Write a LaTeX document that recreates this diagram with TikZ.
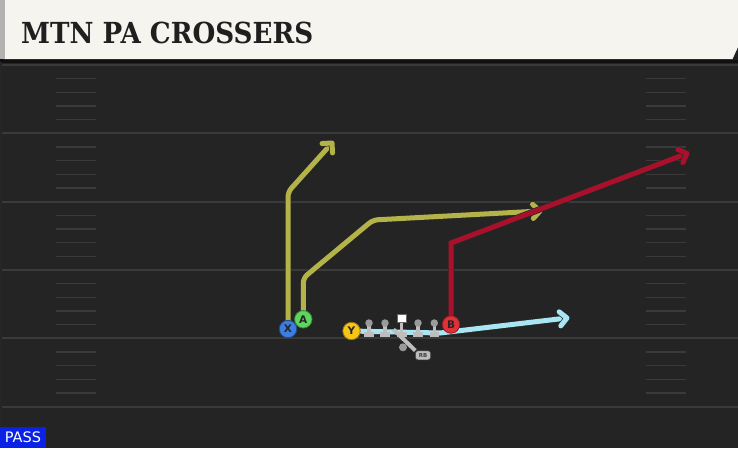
\documentclass[tikz,border=0pt]{standalone}
\usepackage{fontspec}
\usepackage{graphicx}
\setmainfont{DejaVu Sans}
\newfontfamily\titlefont{DejaVu Serif}
\usetikzlibrary{calc}
\definecolor{field}{HTML}{242424}
\definecolor{yard}{HTML}{3A3A3A}
\definecolor{cream}{HTML}{F6F4EE}
\definecolor{olive}{HTML}{B3B349}
\definecolor{crimson}{HTML}{A8102C}
\definecolor{skyb}{HTML}{A8E6F3}
\definecolor{xblue}{HTML}{3D7CE0}
\definecolor{agreen}{HTML}{5CD65C}
\definecolor{yyel}{HTML}{F5C518}
\definecolor{bred}{HTML}{E0303A}
\definecolor{lgray}{HTML}{BEBEBE}
\definecolor{mgray}{HTML}{9A9A9A}
\definecolor{passblue}{HTML}{0A22E6}
\tikzset{
  yardline/.style={draw=yard, line width=2pt},
  hashline/.style={draw=yard, line width=1.5pt},
  routeout/.style={draw=black!85, line width=6.4pt, line join=miter, line cap=butt},
  routecol/.style={line width=5pt, line join=miter, line cap=butt},
  chevout/.style={draw=black!85, line width=6.4pt, line join=round, line cap=round},
  chevcol/.style={line width=5pt, line join=round, line cap=round},
  player/.style={circle, minimum size=17.5pt, inner sep=0pt, line width=0.8pt,
    font=\bfseries\fontsize{10.5}{10.5}\selectfont, text=black!85},
  lman/.style={circle, minimum size=7.5pt, inner sep=0pt, fill=mgray},
}
% chevron at tip #1 coming from #2, colour #3
\newcommand{\chev}[3]{%
  \draw[chevout] ($(#1)!10pt!45:(#2)$) -- (#1) -- ($(#1)!10pt!-45:(#2)$);
  \draw[chevcol, draw=#3] ($(#1)!10pt!45:(#2)$) -- (#1) -- ($(#1)!10pt!-45:(#2)$);
}
\begin{document}
\begin{tikzpicture}[x=1pt,y=-1pt]
\useasboundingbox (0,0) rectangle (738,448);
% field
\fill[field] (0,0) rectangle (738,448);
\fill[black!55!field] (0,0) rectangle (738,63);
\fill[black!70!gray] (0,62) rectangle (2,448);
% yard lines
\foreach \yy in {65,133.3,201.7,270,338.3,406.7}
  \draw[yardline] (2,\yy) -- (738,\yy);
% hash marks
\foreach \yy in {65,133.3,201.7,270,338.3}{
  \foreach \k in {1,2,3,4}{
    \draw[hashline] (56,\yy+13.67*\k) -- (96,\yy+13.67*\k);
    \draw[hashline] (646,\yy+13.67*\k) -- (686,\yy+13.67*\k);
  }
}
% title bar
\fill[black!75!gray] (730,44) rectangle (738,60);
\fill[cream] (4,0) -- (738,0) -- (738,47) -- (732.5,59) -- (4,59) -- cycle;
\fill[gray!60] (0,0) rectangle (4.5,59);
\node[anchor=base west, inner sep=0pt, text=black!88] (title) at (21,43)
  {\resizebox{292pt}{21.5pt}{\titlefont\bfseries MTN PA CROSSERS}};
% PASS label
\node[anchor=south west, fill=passblue, text=white, inner sep=0pt,
  minimum width=45.5pt, minimum height=20.5pt, font=\fontsize{14.5}{14.5}\selectfont] (pass) at (0,448) {PASS};
% player coordinates
\coordinate (Xp) at (288,329);
\coordinate (Ap) at (303.3,319.3);
\coordinate (Yp) at (351.5,331);
\coordinate (Bp) at (451,324.5);
\coordinate (x1) at (288,192);
\coordinate (x2) at (332,143);
\coordinate (a1) at (303.3,278);
\coordinate (a2) at (373,220);
\coordinate (a3) at (540,211);
\coordinate (b1) at (451,243);
\coordinate (b2) at (687,153.5);
\coordinate (y1) at (440,333);
\coordinate (y2) at (567,318);
% routes: outlines then colour
\draw[routeout] (Yp) -- (y1) -- (y2);
\draw[routecol, draw=skyb] (Yp) -- (y1) -- (y2);
\chev{y2}{y1}{skyb}
\draw[routeout, rounded corners=5pt] (Xp) -- (x1) -- (x2);
\draw[routecol, draw=olive, rounded corners=5pt] (Xp) -- (x1) -- (x2);
\chev{x2}{x1}{olive}
\draw[routeout, rounded corners=5pt] (Ap) -- (a1) -- (a2) -- (a3);
\draw[routecol, draw=olive, rounded corners=5pt] (Ap) -- (a1) -- (a2) -- (a3);
\chev{a3}{a2}{olive}
\draw[routeout] (Bp) -- (b1) -- (b2);
\draw[routecol, draw=crimson] (Bp) -- (b1) -- (b2);
\chev{b2}{b1}{crimson}
% offensive line
\foreach \lx/\nm in {369/lt,385/lg,418/rg,434.3/rt}{
  \fill[lgray] (\lx-1.7,323) rectangle (\lx+1.7,334);
  \fill[lgray] (\lx-4.8,331.5) rectangle (\lx+4.8,337);
  \node[lman] (\nm) at (\lx,323) {};
}
% RB fake path
\node[circle, fill=mgray, minimum size=8pt, inner sep=0pt] (rbdot) at (403,347.3) {};
\node[rounded corners=2.5pt, fill=lgray, draw=black!70, line width=0.5pt, inner sep=0pt,
  minimum width=15pt, minimum height=9pt, font=\bfseries\fontsize{5.5}{5.5}\selectfont, text=black!75] (rb) at (423,355.3) {RB};
\coordinate (qb) at (393.5,329.5);
\draw[lgray, line width=4pt] (qb) -- (rb.north west);
% center
\fill[lgray] (400,321) rectangle (403.4,334);
\fill[lgray] (396.5,331.5) rectangle (407,337);
\node[draw=black!60, fill=white, minimum size=8.5pt, inner sep=0pt, line width=0.4pt] (ctr) at (401.7,318) {};
% players
\node[player, fill=xblue, draw=xblue!60!black] (X) at (Xp) {X};
\node[player, fill=agreen, draw=agreen!60!black] (A) at (Ap) {A};
\node[player, fill=yyel, draw=yyel!60!black] (Y) at (Yp) {Y};
\node[player, fill=bred, draw=bred!60!black] (B) at (Bp) {B};
\end{tikzpicture}
\end{document}
